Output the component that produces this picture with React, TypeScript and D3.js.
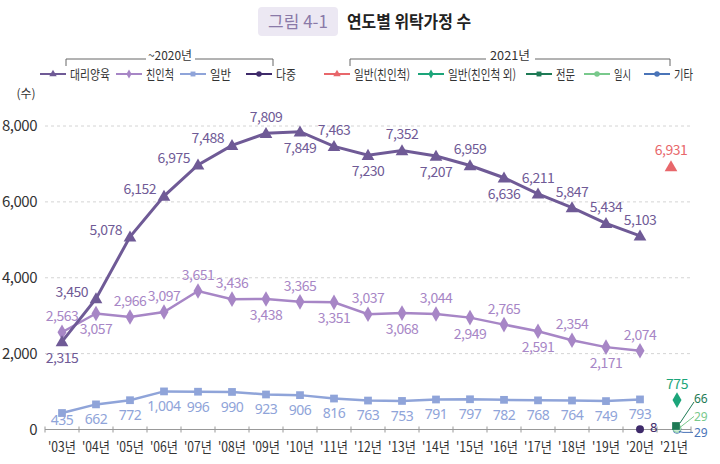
import React from 'react';
import * as d3 from 'd3';

// years on the x axis ('21 only holds the 2021 categories)
const years = ['03', '04', '05', '06', '07', '08', '09', '10', '11', '12', '13', '14', '15', '16', '17', '18', '19', '20', '21'];
const yTicks = [0, 2000, 4000, 6000, 8000];

// ~2020 series
const surrogate = [2315, 3450, 5078, 6152, 6975, 7488, 7809, 7849, 7463, 7230, 7352, 7207, 6959, 6636, 6211, 5847, 5434, 5103];
const kinship = [2563, 3057, 2966, 3097, 3651, 3436, 3438, 3365, 3351, 3037, 3068, 3044, 2949, 2765, 2591, 2354, 2171, 2074];
const general = [435, 662, 772, 1004, 996, 990, 923, 906, 816, 763, 753, 791, 797, 782, 768, 764, 749, 793];
const multiple2020 = 8;

// 2021 series
const gen2021Kin = 6931;
const gen2021NonKin = 775;
const special2021 = 66;
const temp2021 = 29;
const other2021 = 29;

// where each value label sits: a above, b below, l left-above
const surrogatePos = ['b', 'l', 'l', 'l', 'l', 'l', 'a', 'b', 'a', 'b', 'a', 'b', 'a', 'b', 'a', 'a', 'a', 'a'];
const kinshipPos = ['a', 'b', 'a', 'a', 'a', 'a', 'b', 'a', 'b', 'a', 'b', 'a', 'b', 'a', 'b', 'a', 'b', 'a'];

const C = {
  surrogate: '#6f5a96',
  kinship: '#a786c6',
  general: '#8fa4d9',
  multiple: '#3e2a6a',
  kin21: '#e8676b',
  nonkin21: '#1ca57a',
  special21: '#1e7a55',
  temp21: '#79c98c',
  other21: '#4a74b8',
};

const FONT = '"Noto Sans CJK KR", "Noto Sans", sans-serif';
const NUM = '"Noto Sans", sans-serif';

const x = d3.scaleBand().domain(years).range([45, 691]);
const cx = (i: number) => (x(years[i]) as number) + x.bandwidth() / 2;
const y = d3.scaleLinear().domain([0, 8000]).range([429.5, 126]);

const sym = (type: d3.SymbolType, size: number) => d3.symbol().type(type).size(size)() as string;
const fmt = d3.format(',');

const labelAt = (i: number, v: number, pos: string) => {
  const px = cx(i), py = y(v);
  if (pos === 'a') return { x: px, y: py - 16, anchor: 'middle' };
  if (pos === 'b') return { x: px, y: py + 16, anchor: 'middle' };
  return { x: px - 8, y: py - 7, anchor: 'end' };
};

// the source font is narrow, so legend labels get squeezed to its widths
const LegendItem = ({ x0, color, type, label, w }: { x0: number; color: string; type: d3.SymbolType; label: string; w: number }) => (
  <g transform={`translate(${x0},74)`}>
    <line x1={0} x2={26} y1={0} y2={0} stroke={color} strokeWidth={2} />
    <path transform="translate(13,0)" d={sym(type, 24)} fill={color} />
    <text x={30} y={0} dy="0.35em" fontSize={13} fill="#333" textLength={w} lengthAdjust="spacingAndGlyphs">{label}</text>
  </g>
);

const App = () => {
  const lineGen = d3.line<number>().x((d, i) => cx(i)).y(d => y(d));
  const tri = sym(d3.symbolTriangle, 70);
  const dia = sym(d3.symbolDiamond, 70);
  const sq = sym(d3.symbolSquare, 60);
  const i20 = 17, i21 = 18;

  return (
    <div style={{ position: 'absolute', left: 0, top: 0 }}>
      <svg width={720} height={464} fontFamily={FONT} style={{ display: 'block', background: '#fff' }}>
        {/* title */}
        <rect x={258} y={7} width={80} height={29} rx={4} fill="#ece8f3" />
        <text x={298} y={22} dy="0.35em" textAnchor="middle" fontSize={17} fill="#8a7aa8">그림 4-1</text>
        <text x={347} y={22} dy="0.35em" fontSize={17} fontWeight={700} fill="#222" textLength={124} lengthAdjust="spacingAndGlyphs">연도별 위탁가정 수</text>

        {/* legend brackets */}
        <g stroke="#666" strokeWidth={1} fill="none">
          <path d="M66,66 V59 H146 M195,59 H273 V66" />
          <path d="M350,66 V59 H486 M535,59 H670 V66" />
        </g>
        <text x={170} y={56} dy="0.35em" textAnchor="middle" fontSize={12} fill="#333" textLength={44} lengthAdjust="spacingAndGlyphs">~2020년</text>
        <text x={510} y={56} dy="0.35em" textAnchor="middle" fontSize={12} fill="#333" textLength={40} lengthAdjust="spacingAndGlyphs">2021년</text>
        <LegendItem x0={40} color={C.surrogate} type={d3.symbolTriangle} label="대리양육" w={40} />
        <LegendItem x0={116} color={C.kinship} type={d3.symbolDiamond} label="친인척" w={28} />
        <LegendItem x0={180} color={C.general} type={d3.symbolSquare} label="일반" w={21} />
        <LegendItem x0={246} color={C.multiple} type={d3.symbolCircle} label="다중" w={20} />
        <LegendItem x0={324} color={C.kin21} type={d3.symbolTriangle} label="일반(친인척)" w={56} />
        <LegendItem x0={418} color={C.nonkin21} type={d3.symbolDiamond} label="일반(친인척 외)" w={68} />
        <LegendItem x0={526} color={C.special21} type={d3.symbolSquare} label="전문" w={19} />
        <LegendItem x0={584} color={C.temp21} type={d3.symbolCircle} label="일시" w={17} />
        <LegendItem x0={644} color={C.other21} type={d3.symbolCircle} label="기타" w={19} />

        {/* y axis */}
        <text x={26} y={94} dy="0.35em" textAnchor="middle" fontSize={12} fill="#333">(수)</text>
        {yTicks.map(t => (
          <g key={t}>
            {t > 0 && <line x1={45} x2={690} y1={y(t)} y2={y(t)} stroke="#d4d4d4" strokeDasharray="3,3" />}
            <text x={37} y={y(t)} dy="0.35em" textAnchor="end" fontSize={15} fill="#333" letterSpacing={-0.5}>{fmt(t)}</text>
          </g>
        ))}

        {/* x axis */}
        <line x1={45} x2={691} y1={y(0)} y2={y(0)} stroke="#999" />
        {years.map((yr, i) => (
          <g key={yr}>
            <line x1={x(yr)} x2={x(yr)} y1={y(0) - 3} y2={y(0) + 3} stroke="#999" />
            <text x={cx(i) - 14} y={447} dy="0.35em" fontSize={14} fill="#333" textLength={28} lengthAdjust="spacingAndGlyphs">{`'${yr}년`}</text>
          </g>
        ))}
        <line x1={691} x2={691} y1={y(0) - 3} y2={y(0) + 3} stroke="#999" />

        {/* 일반 */}
        <path d={lineGen(general) as string} fill="none" stroke={C.general} strokeWidth={2.5} />
        {general.map((v, i) => (
          <g key={i}>
            <path transform={`translate(${cx(i)},${y(v)})`} d={sq} fill={C.general} />
            <text x={cx(i)} y={Math.min(y(v) + 15, 420)} dy="0.35em" textAnchor="middle" fontFamily={NUM} fontSize={14} fill={C.general} letterSpacing={-0.5}>{fmt(v)}</text>
          </g>
        ))}

        {/* 친인척 */}
        <path d={lineGen(kinship) as string} fill="none" stroke={C.kinship} strokeWidth={2.5} />
        {kinship.map((v, i) => {
          const l = labelAt(i, v, kinshipPos[i]);
          return (
            <g key={i}>
              <path transform={`translate(${cx(i)},${y(v)})`} d={dia} fill={C.kinship} />
              <text x={l.x} y={l.y} dy="0.35em" textAnchor={l.anchor} fontSize={14} fill={C.kinship} letterSpacing={-0.5}>{fmt(v)}</text>
            </g>
          );
        })}

        {/* 대리양육 */}
        <path d={lineGen(surrogate) as string} fill="none" stroke={C.surrogate} strokeWidth={3} />
        {surrogate.map((v, i) => {
          const l = labelAt(i, v, surrogatePos[i]);
          return (
            <g key={i}>
              <path transform={`translate(${cx(i)},${y(v) + 1})`} d={tri} fill={C.surrogate} />
              <text x={l.x} y={l.y} dy="0.35em" textAnchor={l.anchor} fontSize={14} fill={C.surrogate} letterSpacing={-0.5}>{fmt(v)}</text>
            </g>
          );
        })}

        {/* 다중 */}
        <circle cx={cx(i20)} cy={y(multiple2020)} r={4} fill={C.multiple} />
        <text x={cx(i20) + 10} y={y(multiple2020) - 2} dy="0.35em" fontFamily={NUM} fontSize={13} fill={C.multiple}>{multiple2020}</text>

        {/* 2021 */}
        <path transform={`translate(${cx(i21) - 3},${y(gen2021Kin) + 1})`} d={tri} fill={C.kin21} />
        <text x={cx(i21) - 3} y={y(gen2021Kin) - 16} dy="0.35em" textAnchor="middle" fontSize={14} fill={C.kin21} letterSpacing={-0.5}>{fmt(gen2021Kin)}</text>

        <path transform={`translate(${cx(i21) + 3},${y(gen2021NonKin)})`} d={dia} fill={C.nonkin21} />
        <text x={cx(i21) + 3} y={y(gen2021NonKin) - 16} dy="0.35em" textAnchor="middle" fontSize={14} fill={C.nonkin21} letterSpacing={-0.5}>{fmt(gen2021NonKin)}</text>

        <circle cx={cx(i21) + 3} cy={y(other2021) + 1} r={4} fill="#dfe9f5" stroke={C.other21} strokeWidth={0.8} />
        <circle cx={cx(i21) + 3} cy={y(temp2021)} r={4} fill="#cfeeda" stroke={C.temp21} strokeWidth={0.8} />
        <path transform={`translate(${cx(i21) + 2},${y(special2021) - 1})`} d={sq} fill={C.special21} />

        <g fill="none" strokeWidth={1}>
          <path d={`M${cx(i21) + 6},${y(special2021) - 4} L${cx(i21) + 20},${y(special2021) - 25}`} stroke={C.special21} />
          <path d={`M${cx(i21) + 6},${y(temp2021) - 1} L${cx(i21) + 20},${y(temp2021) - 12}`} stroke={C.temp21} />
          <path d={`M${cx(i21) + 5},${y(other2021) + 3} L${cx(i21) + 9},${y(other2021) + 4} H${cx(i21) + 19}`} stroke={C.other21} />
        </g>
        <text x={cx(i21) + 20} y={y(special2021) - 28} dy="0.35em" fontFamily={NUM} fontSize={12} fill={C.special21}>{special2021}</text>
        <text x={cx(i21) + 20} y={y(temp2021) - 12} dy="0.35em" fontFamily={NUM} fontSize={12} fill={C.temp21}>{temp2021}</text>
        <text x={cx(i21) + 20} y={y(other2021) + 4} dy="0.35em" fontFamily={NUM} fontSize={12} fill={C.other21}>{other2021}</text>
      </svg>
    </div>
  );
};

export default App;
